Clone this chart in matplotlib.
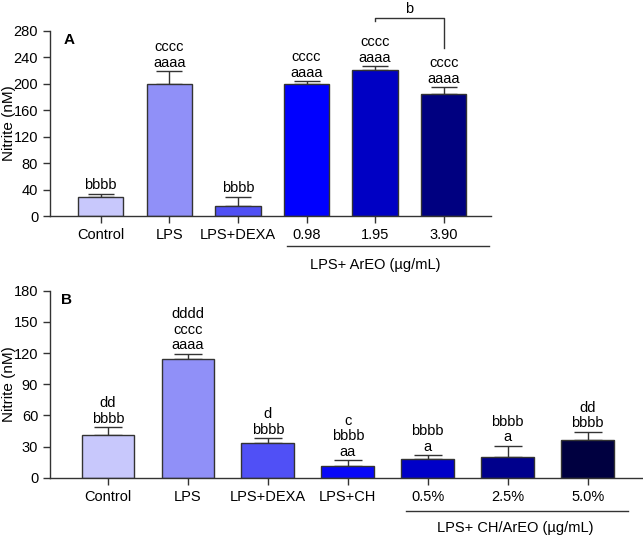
import matplotlib.pyplot as plt
import numpy as np

plt.rcParams['font.family'] = ['Liberation Sans', 'DejaVu Sans']

# Panel A data
labels_a = ['Control', 'LPS', 'LPS+DEXA', '0.98', '1.95', '3.90']
means_a = [29, 200, 15, 200, 221, 184]
errs_a = [5, 19, 14, 4, 6, 11]
letters_a = ['bbbb', 'cccc\naaaa', 'bbbb', 'cccc\naaaa', 'cccc\naaaa', 'cccc\naaaa']
colors_a = ['#c8c8fc', '#9090f8', '#5050f4', '#0000ff', '#0000c4', '#000080']

# Panel B data
labels_b = ['Control', 'LPS', 'LPS+DEXA', 'LPS+CH', '0.5%', '2.5%', '5.0%']
means_b = [40.8, 114, 33.7, 11.3, 18, 20.2, 36]
errs_b = [7.7, 5.3, 4.2, 5.4, 3.5, 10.6, 8.3]
letters_b = ['dd\nbbbb', 'dddd\ncccc\naaaa', 'd\nbbbb', 'c\nbbbb\naa', 'bbbb\na', 'bbbb\na', 'dd\nbbbb']
colors_b = ['#c8c8fc', '#9090f8', '#5050f6', '#0808f8', '#0000c8', '#00008c', '#000040']

W, H = 643, 535
fig = plt.figure(figsize=(W / 100, H / 100), dpi=100)


def make_ax(l, r, b, t):
    return fig.add_axes([l / W, 1 - b / H, (r - l) / W, (b - t) / H])


def draw_panel(ax, labels, means, errs, letters, colors, ymax, step, tag, xl, xr, cap, width_px, tagx):
    x = np.arange(len(labels))
    ax.bar(x, means, width=0.66, color=colors, edgecolor='#333333', linewidth=1.0, zorder=2)
    ax.errorbar(x, means, yerr=[np.zeros(len(errs)), errs], fmt='none', ecolor='#333333',
                elinewidth=1.0, capsize=cap, capthick=1.0, zorder=1)
    for xi, m, e, s in zip(x, means, errs, letters):
        ax.text(xi, m + e + ymax * 0.008, s, ha='center', va='bottom', fontsize=10.5,
                linespacing=1.15)
    ax.set_xlim(xl, xr)
    ax.set_ylim(0, ymax)
    ax.set_yticks(np.arange(0, ymax + 1, step))
    ax.set_xticks(x)
    ax.set_xticklabels(labels)
    ax.tick_params(axis='both', labelsize=10.5, color='#333333', width=1.0, length=5)
    for side in ['top', 'right']:
        ax.spines[side].set_visible(False)
    for side in ['left', 'bottom']:
        ax.spines[side].set_color('#333333')
        ax.spines[side].set_linewidth(1.0)
    ax.set_ylabel('Nitrite (nM)', fontsize=11)
    ax.yaxis.set_label_coords(-34 / width_px, 0.5)
    ax.text(tagx, 0.99, tag, transform=ax.transAxes, fontsize=11, fontweight='bold',
            va='top', ha='left')


ax1 = make_ax(50, 491, 216, 31)
draw_panel(ax1, labels_a, means_a, errs_a, letters_a, colors_a, 280, 40, 'A', -0.74, 5.69,
           9.5, 441, 0.03)

ax2 = make_ax(50, 642, 477.7, 290.7)
draw_panel(ax2, labels_b, means_b, errs_b, letters_b, colors_b, 180, 30, 'B', -0.725, 6.68,
           10, 592, 0.018)

# group underline A
ax1.plot([2.72, 5.66], [-0.16, -0.16], transform=ax1.get_xaxis_transform(),
         color='#333333', lw=1.0, clip_on=False)
ax1.text(4.0, -0.225, 'LPS+ ArEO (µg/mL)', transform=ax1.get_xaxis_transform(),
         ha='center', va='top', fontsize=10.5)

# bracket between 1.95 and 3.90
y_top = 1.07
ax1.plot([4.0, 4.0, 5.0, 5.0], [1.055, y_top, y_top, 0.91], transform=ax1.get_xaxis_transform(),
         color='#333333', lw=1.0, clip_on=False)
ax1.text(4.5, y_top + 0.01, 'b', transform=ax1.get_xaxis_transform(),
         ha='center', va='bottom', fontsize=10.5)

# group underline B
ax2.plot([3.73, 6.5], [-0.18, -0.18], transform=ax2.get_xaxis_transform(),
         color='#333333', lw=1.0, clip_on=False)
ax2.text(5.1, -0.232, 'LPS+ CH/ArEO (µg/mL)', transform=ax2.get_xaxis_transform(),
         ha='center', va='top', fontsize=10.5)

fig.savefig('out.png', dpi=100)
